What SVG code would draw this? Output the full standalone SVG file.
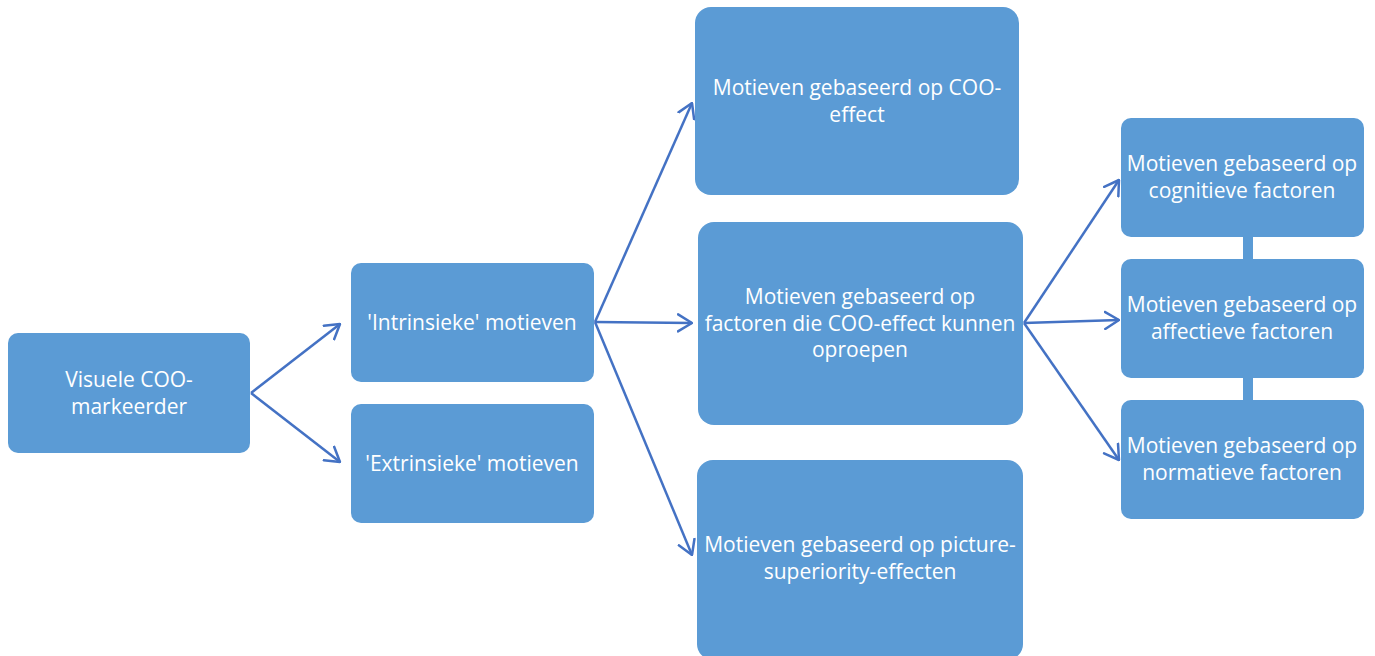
<svg xmlns="http://www.w3.org/2000/svg" width="1375" height="656" viewBox="0 0 1375 656">
<style>
.box{fill:#5B9BD5;}
.t{font-family:"Open Sans",Lato,sans-serif;font-size:21px;fill:#fff;text-anchor:middle;}
.c{stroke:#4472C4;stroke-width:2.5;fill:none;}
</style>
<defs>
<marker id="ah" viewBox="0 0 16 20" refX="15" refY="10" markerWidth="16" markerHeight="20" markerUnits="userSpaceOnUse" orient="auto">
<polyline points="1,1.5 15,10 1,18.5" fill="none" stroke="#4472C4" stroke-width="2.5" stroke-linecap="round" stroke-linejoin="round"/>
</marker>
</defs>
<rect width="1375" height="656" fill="#fff"/>
<g id="connectors">
<line class="c" x1="251" y1="393" x2="340" y2="324" marker-end="url(#ah)"/>
<line class="c" x1="251" y1="393" x2="340" y2="462" marker-end="url(#ah)"/>
<line class="c" x1="595" y1="322" x2="692" y2="103" marker-end="url(#ah)"/>
<line class="c" x1="595" y1="322" x2="692" y2="323" marker-end="url(#ah)"/>
<line class="c" x1="595" y1="322" x2="692" y2="555" marker-end="url(#ah)"/>
<line class="c" x1="1024" y1="323" x2="1119" y2="180" marker-end="url(#ah)"/>
<line class="c" x1="1024" y1="323" x2="1119" y2="320" marker-end="url(#ah)"/>
<line class="c" x1="1024" y1="323" x2="1119" y2="460" marker-end="url(#ah)"/>
<rect x="1243" y="236" width="10" height="24" fill="#5B9BD5"/>
<rect x="1243" y="377" width="10" height="24" fill="#5B9BD5"/>
</g>
<g id="n1"><rect class="box" x="8" y="333" width="242" height="120" rx="10"/>
<text class="t" x="129" y="387">Visuele COO-</text><text class="t" x="129" y="414">markeerder</text></g>
<g id="n2"><rect class="box" x="351" y="263" width="243" height="119" rx="10"/>
<text class="t" x="472" y="330">'Intrinsieke' motieven</text></g>
<g id="n3"><rect class="box" x="351" y="404" width="243" height="119" rx="10"/>
<text class="t" x="472" y="471">'Extrinsieke' motieven</text></g>
<g id="n4"><rect class="box" x="695" y="7" width="324" height="188" rx="16"/>
<text class="t" x="857" y="95">Motieven gebaseerd op COO-</text><text class="t" x="857" y="122">effect</text></g>
<g id="n5"><rect class="box" x="698" y="222" width="325" height="203" rx="16"/>
<text class="t" x="860" y="304">Motieven gebaseerd op</text><text class="t" x="860" y="331">factoren die COO-effect kunnen</text><text class="t" x="860" y="357">oproepen</text></g>
<g id="n6"><rect class="box" x="697" y="460" width="326" height="200" rx="16"/>
<text class="t" x="860" y="552">Motieven gebaseerd op picture-</text><text class="t" x="860" y="579">superiority-effecten</text></g>
<g id="n7"><rect class="box" x="1121" y="118" width="243" height="119" rx="10"/>
<text class="t" x="1242" y="171">Motieven gebaseerd op</text><text class="t" x="1242" y="198">cognitieve factoren</text></g>
<g id="n8"><rect class="box" x="1121" y="259" width="243" height="119" rx="10"/>
<text class="t" x="1242" y="312">Motieven gebaseerd op</text><text class="t" x="1242" y="339">affectieve factoren</text></g>
<g id="n9"><rect class="box" x="1121" y="400" width="243" height="119" rx="10"/>
<text class="t" x="1242" y="453">Motieven gebaseerd op</text><text class="t" x="1242" y="480">normatieve factoren</text></g>
</svg>
